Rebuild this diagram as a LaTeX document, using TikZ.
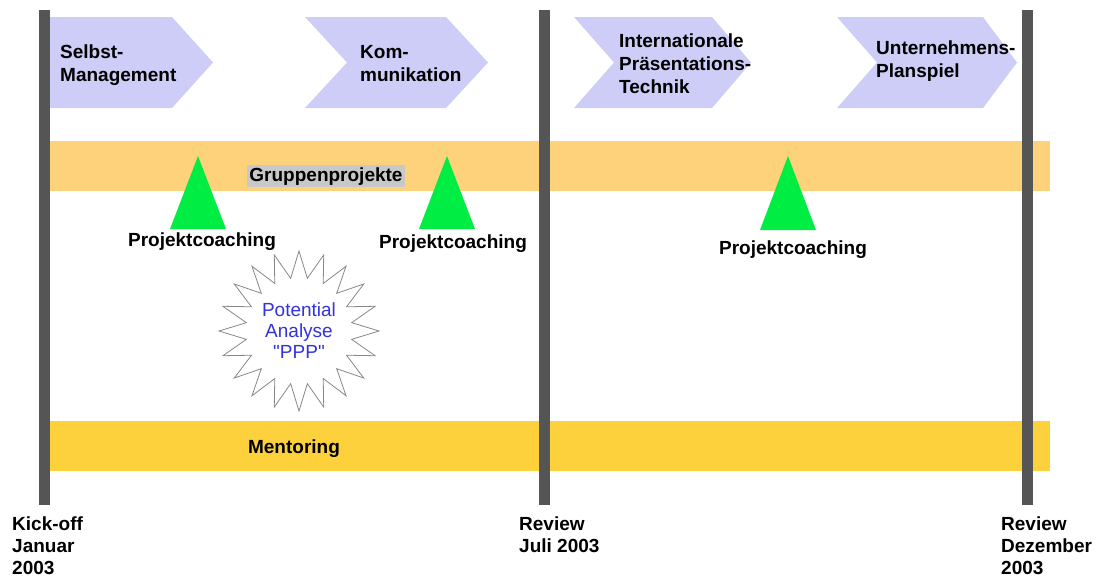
\documentclass[tikz,border=0pt]{standalone}
\usepackage{fontspec}
\setmainfont{Liberation Sans}
\newfontfamily\starfont{Liberation Sans}[Ligatures=TeXOff]
\usetikzlibrary{shapes.geometric}
\definecolor{lav}{HTML}{CDCDF7}
\definecolor{bandor}{HTML}{FDD27A}
\definecolor{bandye}{HTML}{FCD13C}
\definecolor{tgreen}{HTML}{00EE44}
\definecolor{bargray}{HTML}{555555}
\definecolor{hlgray}{HTML}{C8C8C8}
\definecolor{starblue}{HTML}{3333DD}
\definecolor{stargray}{HTML}{888888}
\tikzset{
  chev/.style={fill=lav, draw=none},
  tbar/.style={fill=bargray, draw=none},
  tri/.style={fill=tgreen, draw=none},
  btext/.style={font=\fontsize{19}{23}\selectfont\bfseries, inner sep=0pt, align=left},
  ctext/.style={font=\fontsize{19}{23}\selectfont\bfseries, inner sep=0pt},
  mtext/.style={font=\fontsize{19}{22}\selectfont\bfseries, inner sep=0pt, align=left, anchor=north west},
}
\begin{document}
\begin{tikzpicture}[x=1pt,y=-1pt]
\useasboundingbox (0,0) rectangle (1097,579);
% bands
\fill[bandor] (44,141) rectangle (1050,191);
\fill[bandye] (44,421) rectangle (1050,471);
% chevrons
\fill[chev] (48,17) -- (172,17) -- (213,62.5) -- (172,108) -- (48,108) -- cycle;
\fill[chev] (305,17) -- (446,17) -- (488,62.5) -- (446,108) -- (305,108) -- (347,62.5) -- cycle;
\fill[chev] (574,17) -- (712,17) -- (751,62.5) -- (712,108) -- (574,108) -- (614,62.5) -- cycle;
\fill[chev] (837,17) -- (983,17) -- (1017,62.5) -- (983,108) -- (837,108) -- (877,62.5) -- cycle;
% bars
\fill[tbar] (38.5,10) rectangle (49.5,505);
\fill[tbar] (538.5,10) rectangle (549.5,505);
\fill[tbar] (1021.5,10) rectangle (1032.5,505);
% chevron texts
\node[btext, anchor=north west] (t1) at (60,45) {Selbst-\\Management};
\node[btext, anchor=north west] (t2) at (360,45) {Kom-\\munikation};
\node[btext, anchor=north west] (t3) at (619,34) {Internationale\\Präsentations-\\Technik};
\node[btext, anchor=north west] (t4) at (876,41) {Unternehmens-\\Planspiel};
% band labels
\node[ctext, fill=hlgray, inner sep=2pt, anchor=base] (gp) at (326,181) {Gruppenprojekte};
\node[ctext, anchor=base] (me) at (294,453) {Mentoring};
% triangles
\fill[tri] (198,156) -- (226,229) -- (170,229) -- cycle;
\fill[tri] (447,156) -- (475,229) -- (419,229) -- cycle;
\fill[tri] (788,156) -- (816,230) -- (760,230) -- cycle;
\node[ctext, anchor=base] (pc1) at (202,246) {Projektcoaching};
\node[ctext, anchor=base] (pc2) at (453,248) {Projektcoaching};
\node[ctext, anchor=base] (pc3) at (793,254) {Projektcoaching};
% starburst
\node[star, star points=20, star point ratio=1.5, minimum size=160pt, draw=stargray, fill=white, line width=0.8pt,
      font=\starfont\fontsize{19}{21}\selectfont, text=starblue, align=center, inner sep=0pt] (pa) at (299,331)
      {Potential\\Analyse\\"PPP"};
% milestone labels
\node[mtext] (m1) at (12,517) {Kick-off\\Januar\\2003};
\node[mtext] (m2) at (519,517) {Review\\Juli 2003};
\node[mtext] (m3) at (1001,517) {Review\\Dezember\\2003};
\end{tikzpicture}
\end{document}
